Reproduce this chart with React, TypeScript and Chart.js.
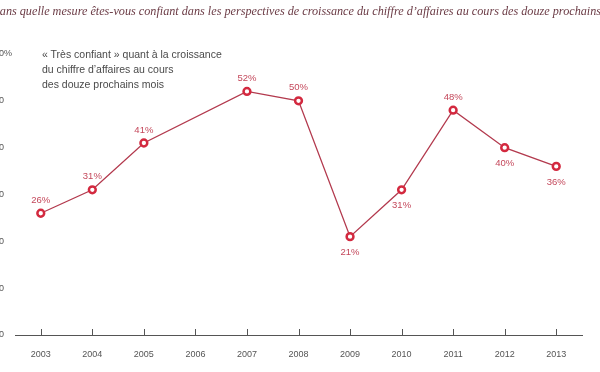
import React, { useEffect, useRef } from "react";
import { Chart, registerables } from "chart.js";

Chart.register(...registerables);

const years = ["2003", "2004", "2005", "2006", "2007", "2008", "2009", "2010", "2011", "2012", "2013"];
const confidence: (number | null)[] = [26, 31, 41, null, 52, 50, 21, 31, 48, 40, 36];
const labelBelow = [false, false, false, false, false, false, true, true, false, true, true];
const yMin = 0;
const yMax = 60;
const yStep = 10;
const titleText =
  "Dans quelle mesure êtes-vous confiant dans les perspectives de croissance du chiffre d’affaires au cours des douze prochains mois ?";
const noteLines = ["« Très confiant » quant à la croissance", "du chiffre d’affaires au cours", "des douze prochains mois"];

const LABEL_FONT = "Arial, 'Liberation Sans', Helvetica, sans-serif";

const decorPlugin = {
  id: "decor",
  afterDraw(chart: any) {
    const ctx = chart.ctx;
    const x = chart.scales.x;
    const y = chart.scales.y;
    const bottom = chart.chartArea.bottom;
    ctx.save();
    // upward tick marks on x axis
    ctx.strokeStyle = "#555";
    ctx.lineWidth = 1;
    for (let i = 0; i < x.ticks.length; i++) {
      const px = Math.round(x.getPixelForTick(i)) + 0.5;
      ctx.beginPath();
      ctx.moveTo(px, bottom - 6);
      ctx.lineTo(px, bottom);
      ctx.stroke();
    }
    // percent sign after top y label
    ctx.fillStyle = "#555";
    ctx.font = `9px ${LABEL_FONT}`;
    ctx.textAlign = "left";
    ctx.textBaseline = "middle";
    ctx.fillText("%", y.right - y.options.ticks.padding, y.getPixelForValue(yMax));
    // data labels
    const meta = chart.getDatasetMeta(0);
    ctx.fillStyle = "#c4485b";
    ctx.font = `9.5px ${LABEL_FONT}`;
    ctx.textAlign = "center";
    meta.data.forEach((el: any, i: number) => {
      const v = confidence[i];
      if (v === null || v === undefined) return;
      const dy = labelBelow[i] ? 16 : -13;
      ctx.fillText(`${v}%`, el.x, el.y + dy);
    });
    ctx.restore();
  },
};

export default function App() {
  const ref = useRef<HTMLCanvasElement | null>(null);

  useEffect(() => {
    if (!ref.current) return;
    const chart = new Chart(ref.current, {
      type: "line",
      data: {
        labels: years,
        datasets: [
          {
            data: confidence,
            borderColor: "#b33a4e",
            borderWidth: 1.3,
            pointRadius: 3.4,
            pointBorderWidth: 2.5,
            pointBorderColor: "#d3293f",
            pointBackgroundColor: "#ffffff",
            spanGaps: true,
            tension: 0,
          },
        ],
      },
      options: {
        responsive: false,
        animation: false,
        layout: { padding: { left: 0, right: 18, top: 54, bottom: 0 } },
        plugins: {
          legend: { display: false },
          tooltip: { enabled: false },
          title: { display: false },
        },
        scales: {
          x: {
            offset: true,
            grid: { display: false, drawTicks: false, offset: false },
            border: { display: true, color: "#555", width: 1 },
            ticks: {
              color: "#555",
              font: { size: 9, family: LABEL_FONT },
              padding: 14,
              maxRotation: 0,
              autoSkip: false,
            },
            afterFit: (s: any) => {
              s.height = 37;
            },
          },
          y: {
            min: yMin,
            max: yMax,
            grid: { display: false, drawTicks: false },
            border: { display: false },
            ticks: {
              stepSize: yStep,
              color: "#555",
              font: { size: 9, family: LABEL_FONT },
              padding: 11,
              callback: (v: any) => String(v),
            },
            afterFit: (s: any) => {
              s.width = 15;
            },
          },
        },
      },
      plugins: [decorPlugin],
    });
    return () => chart.destroy();
  }, []);

  return (
    <div
      style={{
        position: "fixed",
        left: 0,
        top: 0,
        width: 600,
        height: 372,
        overflow: "hidden",
        background: "#fff",
      }}
    >
      <canvas ref={ref} width={600} height={372} style={{ display: "block" }} />
      <div
        style={{
          position: "absolute",
          left: -9,
          top: 3,
          whiteSpace: "nowrap",
          fontFamily: "'Liberation Serif', serif",
          fontStyle: "italic",
          fontSize: 12.2,
          color: "#6b3b45",
          lineHeight: "16px",
        }}
      >
        {titleText}
      </div>
      <div
        style={{
          position: "absolute",
          left: 42,
          top: 47,
          fontFamily: LABEL_FONT,
          fontSize: 10.5,
          lineHeight: "15px",
          color: "#4a4a4a",
          whiteSpace: "nowrap",
        }}
      >
        {noteLines.map((l, i) => (
          <div key={i}>{l}</div>
        ))}
      </div>
    </div>
  );
}
